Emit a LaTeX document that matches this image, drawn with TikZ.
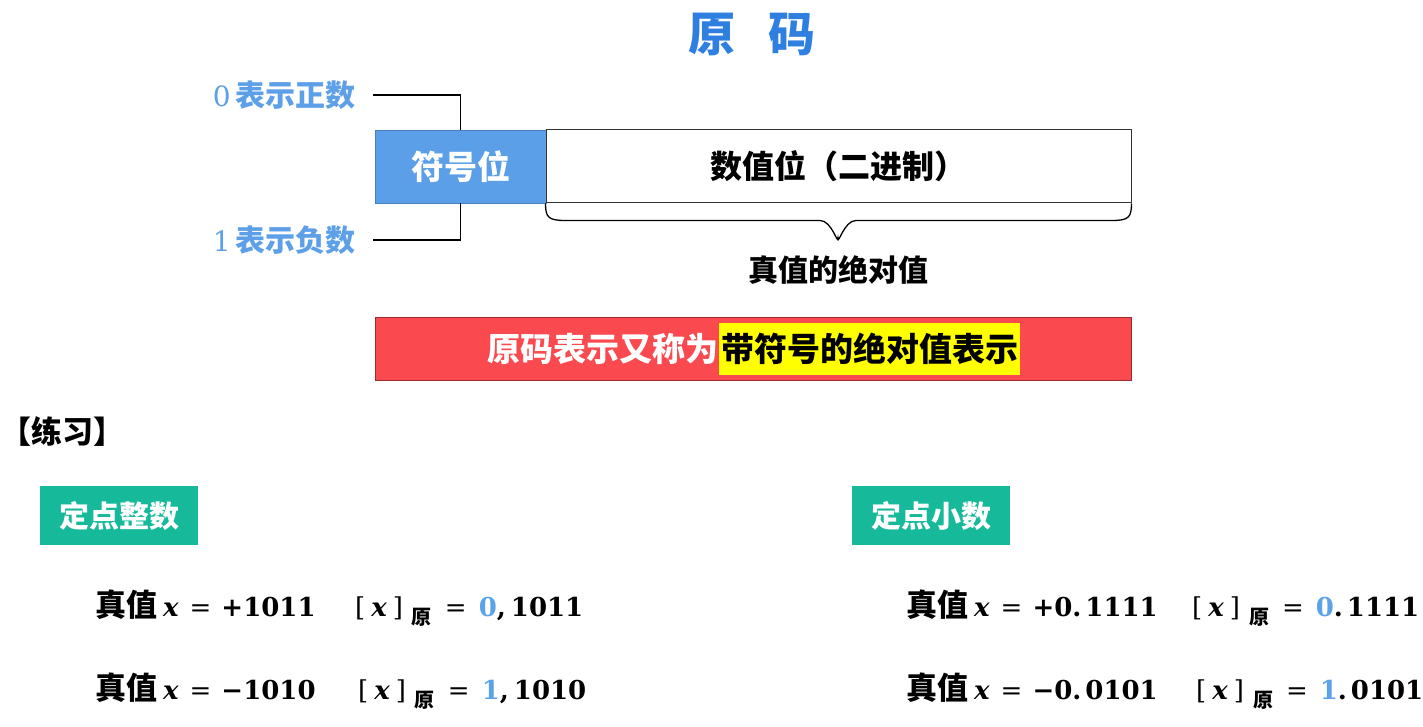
\documentclass[tikz,border=0pt]{standalone}
\usepackage{fontspec}
\setmainfont{Noto Sans CJK SC}
\newfontfamily\cjk{Noto Sans CJK SC}
\newfontfamily\mf{DejaVu Serif}
\definecolor{titleblue}{HTML}{2E7FE0}
\definecolor{lblue}{HTML}{5DA0E8}
\definecolor{signblue}{HTML}{5B9FE8}
\definecolor{bannerred}{HTML}{FA4A4F}
\definecolor{hlyellow}{HTML}{FFFF00}
\definecolor{tealgreen}{HTML}{16BA9A}
\definecolor{digitblue}{HTML}{5BA3E8}
\definecolor{boxedge}{HTML}{333333}
\newcommand\fs[1]{\fontsize{#1}{#1}\selectfont}
\newcommand\tvx[1]{{\fs{31}\cjk\bfseries 真值}\hspace{6pt}{\mf\bfseries\itshape x}\hspace{11pt}{\mf =}\hspace{10pt}{\mf\bfseries #1}}
\newcommand\yxs[2]{{\mf [\hspace{6pt}{\bfseries\itshape x}\hspace{6pt}]}\hspace{9pt}\raisebox{-8pt}{\fs{20}\cjk\bfseries 原}\hspace{13pt}{\mf =}\hspace{12pt}{\mf\bfseries\color{digitblue}#1}{\mf\bfseries #2}}
\tikzset{
  lbl/.style={inner sep=0pt, text=lblue, font=\fs{30}\cjk\bfseries},
  conn/.style={draw=black, line width=1.3pt},
  tagbox/.style={fill=tealgreen, text=white, inner sep=0pt, minimum width=158pt, minimum height=59pt, font=\fs{30}\cjk\bfseries},
  formula/.style={inner sep=0pt, anchor=base west, font=\fs{26}}
}
\begin{document}
\begin{tikzpicture}[x=1pt,y=-1pt]
\useasboundingbox (0,0) rectangle (1423,727);
\fill[white] (0,0) rectangle (1423,727);
% title
\node (title) [inner sep=0pt, text=titleblue, font=\fs{47}\cjk\bfseries] at (752,35) {原\hspace{33pt}码};
% sign and value boxes
\node (sign) [fill=signblue, draw=signblue!80!black, line width=0.8pt, inner sep=0pt, minimum width=171pt, minimum height=73pt, text=white, font=\fs{33}\cjk\bfseries] at (460.5,166.5) {符号位};
\node (val) [draw=boxedge, fill=white, line width=1pt, inner sep=0pt, minimum width=585pt, minimum height=73pt, font=\fs{32}\cjk\bfseries] at (838.5,166.5) {数值位（二进制）};
% labels
\node (pos) [lbl, anchor=east] at (356,95) {{\mf\mdseries\fs{28}0}\hspace{5pt}表示正数};
\node (neg) [lbl, anchor=east] at (356,240) {{\mf\mdseries\fs{28}1}\hspace{5pt}表示负数};
\coordinate (p0) at (373,95);
\coordinate (p1) at (373,240);
\draw[conn] (p0) -| (sign.north);
\draw[conn] (p1) -| (sign.south);
% brace
\coordinate (bl) at (val.south west);
\coordinate (br) at (val.south east);
\coordinate (tip) at (838,238);
\draw[line width=1.3pt, black] (bl) .. controls ([yshift=-14pt]bl) and ([xshift=3pt,yshift=-17pt]bl) .. ([xshift=20pt,yshift=-17pt]bl) -- ([xshift=-18pt,yshift=-17pt]tip |- bl)
  .. controls ([xshift=-6pt,yshift=-17pt]tip |- bl) and ([yshift=-8pt]tip) .. (tip)
  .. controls ([yshift=-8pt]tip) and ([xshift=6pt,yshift=-17pt]tip |- bl) .. ([xshift=18pt,yshift=-17pt]tip |- bl)
  -- ([xshift=-20pt,yshift=-17pt]br) .. controls ([xshift=-3pt,yshift=-17pt]br) and ([yshift=-14pt]br) .. (br);
\node (abs) [inner sep=0pt, font=\fs{30}\cjk\bfseries] at (838,270) {真值的绝对值};
% banner
\node (banner) [fill=bannerred, draw=bannerred!60!black, line width=1pt, inner sep=0pt, minimum width=756pt, minimum height=63pt] at (753,348.5) {};
\node (bt1) [inner sep=0pt, anchor=east, text=white, font=\fs{33}\cjk\bfseries] at (719,349) {原码表示又称为};
\node (bt2) [inner sep=0pt, anchor=west, fill=hlyellow, text=black, font=\fs{33}\cjk\bfseries, minimum height=52pt, inner xsep=2pt] at (719,349) {带符号的绝对值表示};
% practice
\node (lx) [inner sep=0pt, anchor=west, font=\fs{31}\cjk\bfseries] at (0,432) {【练习】};
\node (t1) [tagbox] at (119,515.5) {定点整数};
\node (t2) [tagbox] at (931,515.5) {定点小数};
% formulas
\node (f1) [formula] at (95,616) {\tvx{+1011}};
\node (g1) [formula] at (355,616) {\yxs{0}{,\hspace{5pt}1011}};
\node (f2) [formula] at (95,699) {\tvx{−1010}};
\node (g2) [formula] at (358,699) {\yxs{1}{,\hspace{5pt}1010}};
\node (f3) [formula] at (906,616) {\tvx{+0.\hspace{4pt}1111}};
\node (g3) [formula] at (1192,616) {\yxs{0}{.\hspace{4pt}1111}};
\node (f4) [formula] at (906,699) {\tvx{−0.\hspace{4pt}0101}};
\node (g4) [formula] at (1196,699) {\yxs{1}{.\hspace{4pt}0101}};
\end{tikzpicture}
\end{document}
